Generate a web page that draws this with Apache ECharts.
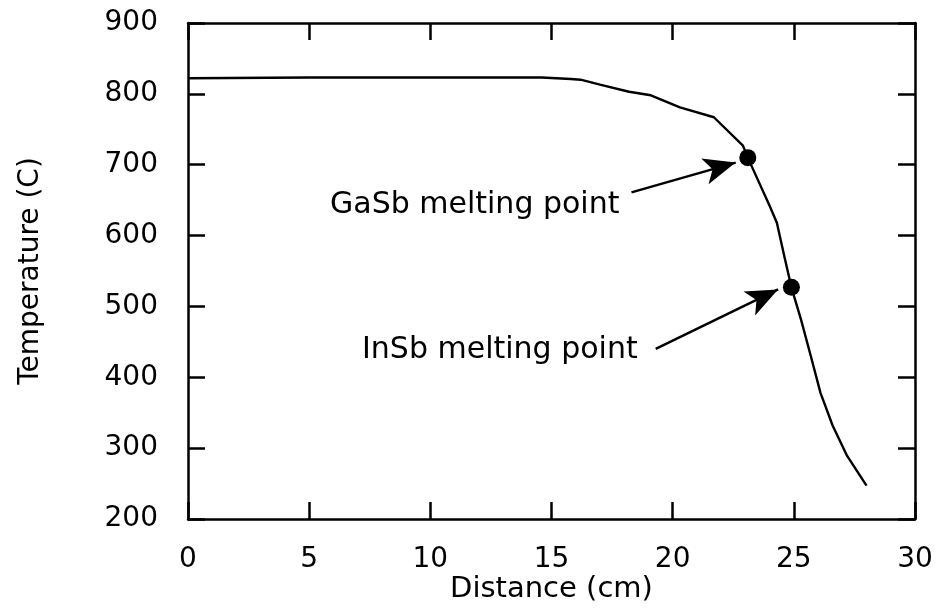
<!DOCTYPE html>
<html>
<head>
<meta charset="utf-8">
<script src="https://cdn.jsdelivr.net/npm/echarts@6/dist/echarts.min.js"></script>
<style>
html,body{margin:0;padding:0;background:#fff;}
#chart{width:939px;height:610px;}
</style>
</head>
<body>
<div id="chart"></div>
<script>
// ---- data ----
const distance = [0, 5, 10, 14.6, 15.8, 16.2, 17.0, 18.2, 19.1, 20.3, 21.7, 22.9, 23.1, 24.0, 24.3, 24.6, 24.9, 25.3, 25.7, 26.1, 26.6, 27.2, 28.0];
const temperature = [822, 823, 823, 823, 821, 820, 813, 803, 798, 781, 767, 727, 710, 642, 618, 572, 527, 481, 430, 378, 332, 289, 247];
const meltNames = ['GaSb melting point', 'InSb melting point'];
const meltDistance = [23.1, 24.9];
const meltTemperature = [710, 527];
const arrowTailDistance = [18.3, 19.3];
const arrowTailTemperature = [661, 440];
const arrowTipDistance = [22.6, 24.35];
const arrowTipTemperature = [703, 524];
const xTicks = [0, 5, 10, 15, 20, 25, 30];
const yTicks = [200, 300, 400, 500, 600, 700, 800, 900];
const xTitle = 'Distance (cm)';
const yTitle = 'Temperature (C)';

const FONT = 'DejaVu Sans';
const chart = echarts.init(document.getElementById('chart'), null, {renderer: 'canvas'});

const curve = distance.map((d, i) => [d, temperature[i]]);
const melt = meltDistance.map((d, i) => [d, meltTemperature[i]]);
const arrows = arrowTailDistance.map((d, i) => [
  {coord: [d, arrowTailTemperature[i]]},
  {coord: [arrowTipDistance[i], arrowTipTemperature[i]]}
]);

const axisLine = {show: true, onZero: false, lineStyle: {color: '#000', width: 2.5}};
const tick = {show: true, inside: true, length: 17, lineStyle: {color: '#000', width: 2.5}};

chart.setOption({
  animation: false,
  backgroundColor: '#fff',
  grid: {left: 188, right: 24, top: 23, bottom: 91, containLabel: false},
  xAxis: [{
    type: 'value', min: xTicks[0], max: xTicks[xTicks.length - 1], interval: 5,
    position: 'bottom',
    name: xTitle, nameLocation: 'middle', nameGap: 56, nameMoveOverlap: false,
    nameTextStyle: {fontFamily: FONT, fontSize: 29, color: '#000'},
    axisLine: axisLine, axisTick: tick, splitLine: {show: false},
    axisLabel: {fontFamily: FONT, fontSize: 28, color: '#000', margin: 27}
  }, {
    type: 'value', min: xTicks[0], max: xTicks[xTicks.length - 1], interval: 5,
    position: 'top',
    axisLine: axisLine, axisTick: tick, splitLine: {show: false},
    axisLabel: {show: false}
  }],
  yAxis: [{
    type: 'value', min: yTicks[0], max: yTicks[yTicks.length - 1], interval: 100,
    position: 'left',
    name: yTitle, nameLocation: 'middle', nameGap: 143, nameRotate: 90, nameMoveOverlap: false,
    nameTextStyle: {fontFamily: FONT, fontSize: 28, color: '#000'},
    axisLine: axisLine, axisTick: tick, splitLine: {show: false},
    axisLabel: {fontFamily: FONT, fontSize: 28, color: '#000', margin: 30}
  }, {
    type: 'value', min: yTicks[0], max: yTicks[yTicks.length - 1], interval: 100,
    position: 'right',
    axisLine: axisLine, axisTick: tick, splitLine: {show: false},
    axisLabel: {show: false}
  }],
  series: [{
    type: 'line',
    data: curve,
    showSymbol: false,
    lineStyle: {color: '#000', width: 2.4},
    silent: true,
    markLine: {
      silent: true,
      symbol: ['none', 'arrow'],
      symbolSize: [20, 32],
      label: {show: false},
      lineStyle: {color: '#000', width: 2.5, type: 'solid'},
      data: arrows
    },
    z: 2
  }, {
    type: 'scatter',
    data: melt,
    symbol: 'circle',
    symbolSize: 17,
    itemStyle: {color: '#000', opacity: 1},
    silent: true,
    z: 3
  }],
  graphic: [{
    type: 'text', left: 330, top: 190,
    style: {text: meltNames[0], font: '30px "' + FONT + '"', fill: '#000'}
  }, {
    type: 'text', left: 362, top: 335,
    style: {text: meltNames[1], font: '30px "' + FONT + '"', fill: '#000'}
  }]
});
</script>
</body>
</html>
